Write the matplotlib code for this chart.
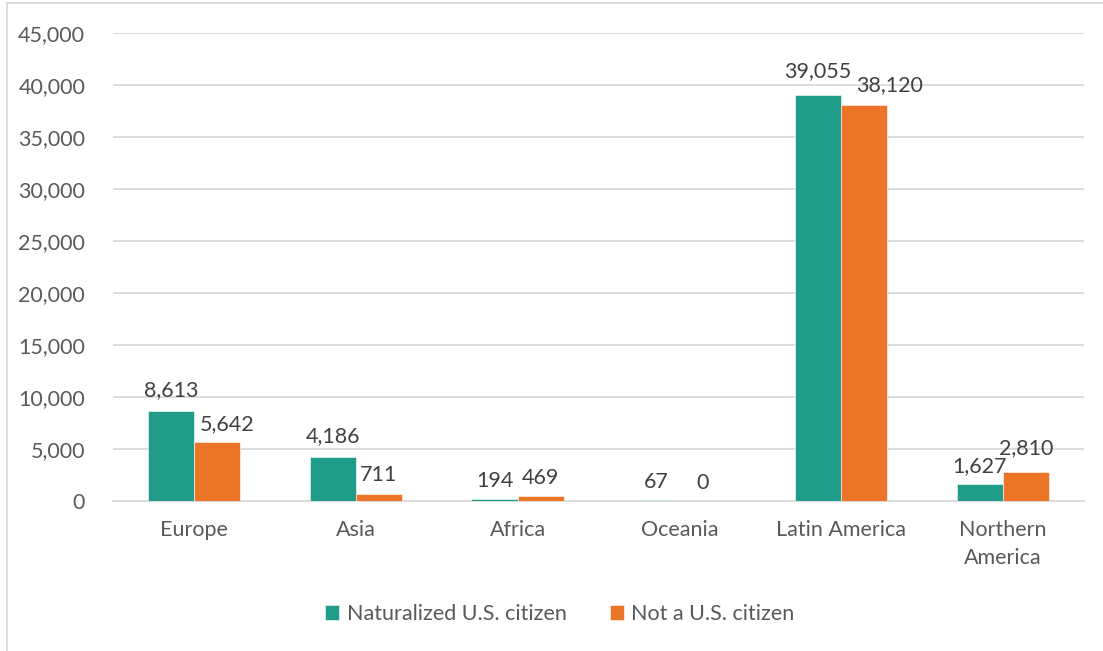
import matplotlib
matplotlib.use("Agg")
import matplotlib.pyplot as plt
import numpy as np
from matplotlib.patches import Rectangle

categories = ["Europe", "Asia", "Africa", "Oceania", "Latin America", "Northern\nAmerica"]
naturalized = [8613, 4186, 194, 67, 39055, 1627]
not_citizen = [5642, 711, 469, 0, 38120, 2810]
series_names = ["Naturalized U.S. citizen", "Not a U.S. citizen"]
yticks = [0, 5000, 10000, 15000, 20000, 25000, 30000, 35000, 40000, 45000]

plt.rcParams['font.family'] = ['Lato', 'DejaVu Sans']
TEAL = "#1F9B89"
ORANGE = "#EC7426"
GRID = "#D9D9D9"
TICKC = "#595959"
LABC = "#404040"
FS = 15.5

fig = plt.figure(figsize=(11.03, 6.51), dpi=100)
ax = fig.add_axes([113/1103, 1-501/651, (1084-113)/1103, (501-33)/651])

x = np.arange(len(categories))
w = 0.285
b1 = ax.bar(x - w/2, naturalized, w, color=TEAL, edgecolor="white", linewidth=0.4, label=series_names[0], zorder=3)
b2 = ax.bar(x + w/2, not_citizen, w, color=ORANGE, edgecolor="white", linewidth=0.4, label=series_names[1], zorder=3)

ax.set_xlim(-0.5, len(categories) - 0.5)
ax.set_ylim(0, 45000)
ax.set_yticks(yticks)
ax.set_yticklabels([f"{v:,}" for v in yticks])
ax.set_xticks(x)
ax.set_xticklabels(categories, linespacing=1.5)
ax.tick_params(axis='both', length=0, labelsize=FS, colors=TICKC)
ax.tick_params(axis='y', pad=20)
ax.tick_params(axis='x', pad=14)
ax.grid(axis='y', color=GRID, linewidth=1.3, zorder=0)
for s in ["top", "right", "left"]:
    ax.spines[s].set_visible(False)
ax.spines["bottom"].set_color(GRID)
ax.spines["bottom"].set_linewidth(1.3)

def label_bars(bars, vals, dx_list, dy_list):
    for bar, v, dx, dy in zip(bars, vals, dx_list, dy_list):
        ax.annotate(f"{v:,}", (bar.get_x() + bar.get_width()/2, bar.get_height()),
                    xytext=(dx, dy), textcoords="offset points", ha="center", va="bottom",
                    fontsize=FS, color=LABC, zorder=4)

label_bars(b1, naturalized, [0, 0, 0, 0, 0, 0], [8, 8, 6, 6, 10, 6])
label_bars(b2, not_citizen, [7, 0, 0, 0, 18, 0], [6, 6, 6, 6, 7, 10])

leg = fig.legend(loc="center", bbox_to_anchor=(560/1103, 1-614/651), ncol=2, frameon=False,
                 fontsize=FS, handlelength=0.65, handleheight=0.65, handletextpad=0.35,
                 columnspacing=2.0, labelcolor=TICKC)

fig.patches.append(Rectangle((7/1103, -0.1), 1.2, 0.1 + 1-3/651, transform=fig.transFigure,
                             fill=False, edgecolor="#D9D9D9", linewidth=1.3))

fig.savefig("out.png", dpi=100)
